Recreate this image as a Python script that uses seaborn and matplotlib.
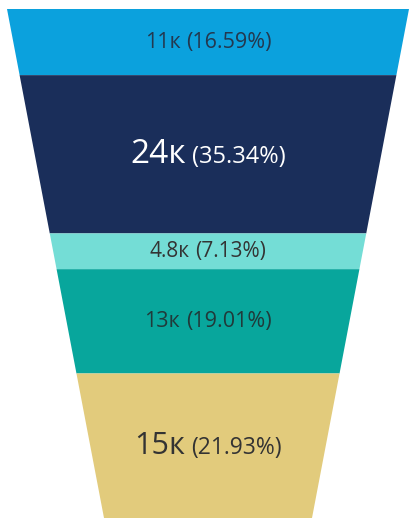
import numpy as np
import seaborn as sns
import matplotlib.pyplot as plt
from matplotlib.offsetbox import TextArea, HPacker, AnnotationBbox

# funnel stages (top to bottom)
value_labels = ['11к', '24к', '4.8к', '13к', '15к']
shares = [16.59, 35.34, 7.13, 19.01, 21.93]
colors = ['#0BA1DD', '#1A2E5A', '#74DDD6', '#08A69C', '#E2CB7C']

sns.set_theme(style='white')
plt.rcParams['font.family'] = ['Open Sans', 'DejaVu Sans']

fig = plt.figure(figsize=(4.10, 5.18), dpi=100)
ax = fig.add_axes([0, 0, 1, 1])
ax.set_xlim(0, 410)
ax.set_ylim(518, 0)
ax.axis('off')

# funnel geometry (pixels): top/bottom edge, centre, half widths
y_top, y_bot = 9, 518
cx = 208
hw_top, hw_bot = 201, 104
H = y_bot - y_top
Wt, Wb = 2 * hw_top, 2 * hw_bot
total = (Wt + Wb) / 2


def depth_for(frac):
    # normalised depth t where area above equals frac of total
    a = (Wt - Wb) / 2
    return (Wt - np.sqrt(Wt ** 2 - 4 * a * frac * total)) / (2 * a)


def half_width(y):
    t = (y - y_top) / H
    return hw_top - (hw_top - hw_bot) * t


cum = np.concatenate([[0], np.cumsum(shares) / np.sum(shares)])
bounds = [y_top + H * depth_for(f) for f in cum]

# font sizes: bigger value text in the tall bands
val_sizes = [15.5, 24, 15, 15.5, 22]
pct_sizes = [15.5, 17, 15, 15.5, 16.5]
text_colors = ['#23384f', 'white', '#333333', '#203a3a', '#333333']

for i in range(len(shares)):
    y0, y1 = bounds[i], bounds[i + 1]
    xs = [cx - half_width(y0), cx + half_width(y0), cx + half_width(y1), cx - half_width(y1)]
    ys = [y0, y0, y1, y1]
    ax.fill(xs, ys, color=colors[i], lw=0)

    t1 = TextArea(value_labels[i], textprops=dict(size=val_sizes[i], color=text_colors[i]))
    t2 = TextArea('(%.2f%%)' % shares[i], textprops=dict(size=pct_sizes[i], color=text_colors[i]))
    box = HPacker(children=[t1, t2], sep=4, align='baseline', pad=0)
    ab = AnnotationBbox(box, (cx, (y0 + y1) / 2), frameon=False, box_alignment=(0.5, 0.5))
    ax.add_artist(ab)

plt.savefig('out.png', dpi=100)
